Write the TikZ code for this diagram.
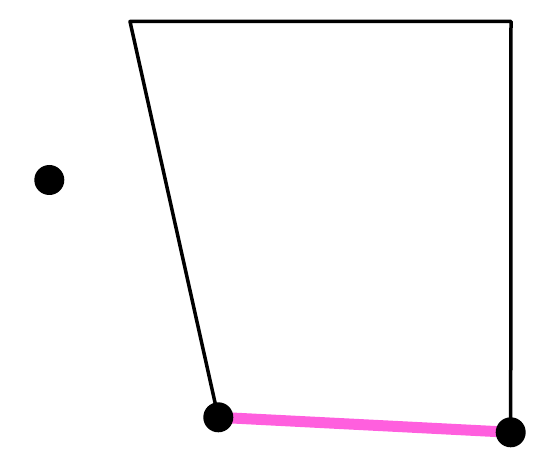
\documentclass[tikz,border=0pt]{standalone}
\definecolor{pinkline}{RGB}{255,95,222}
\tikzset{
  dot/.style={circle,fill=black,inner sep=0pt,minimum size=30pt},
  edge/.style={line width=3.5pt,line join=round,black},
  pinkedge/.style={line width=11pt,pinkline}
}
\begin{document}
\begin{tikzpicture}[x=1pt,y=-1pt]
\useasboundingbox (0,0) rectangle (560,470);
\coordinate (tl) at (130,21.5);
\coordinate (tr) at (511,21.5);
\coordinate (bl) at (218.3,417.3);
\coordinate (br) at (510.7,432.3);
\draw[edge] (bl) -- (tl) -- (tr) -- (br);
\draw[pinkedge] (bl) -- (br);
\node[dot] (p) at (49.3,180) {};
\node[dot] (b1) at (bl) {};
\node[dot] (b2) at (br) {};
\end{tikzpicture}
\end{document}
